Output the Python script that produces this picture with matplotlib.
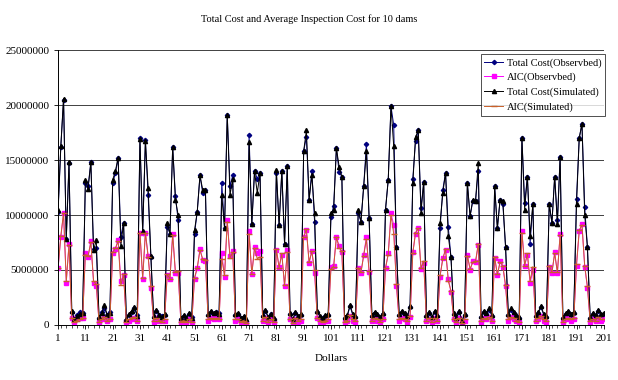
import numpy as np
import matplotlib.pyplot as plt
from matplotlib.ticker import FixedLocator, MultipleLocator

# values in millions of dollars, one row per 10 samples
total_cost_obs = [
    10.3, 16.2, 20.5, 7.8, 14.7, 1.2, 0.45, 0.9, 1.2, 1.1,
    12.9, 12.6, 14.8, 6.9, 7.0, 0.6, 1.2, 1.5, 0.9, 1.2,
    12.9, 13.8, 15.2, 8.0, 9.3, 0.45, 0.9, 1.2, 1.5, 0.9,
    17.0, 8.4, 16.8, 11.8, 6.2, 0.7, 1.3, 0.9, 0.8, 0.9,
    8.95, 8.3, 16.2, 11.7, 9.5, 0.5, 0.8, 0.6, 1.0, 0.7,
    8.3, 10.3, 13.6, 12.0, 12.3, 0.9, 1.2, 1.0, 1.2, 1.1,
    12.9, 8.8, 19.1, 12.6, 13.6, 0.9, 1.0, 0.6, 0.7, 0.4,
    17.3, 9.2, 14.0, 13.3, 13.85, 0.8, 1.3, 0.6, 1.0, 0.5,
    13.8, 9.1, 14.0, 7.4, 14.5, 1.0, 0.4, 1.1, 0.7, 0.9,
    15.8, 17.1, 11.4, 14.0, 9.4, 1.2, 0.7, 0.6, 0.8, 0.9,
    9.8, 10.85, 16.1, 13.9, 13.5, 0.6, 0.8, 1.7, 0.9, 0.7,
    10.2, 9.4, 12.6, 16.5, 9.7, 0.8, 1.1, 0.9, 0.6, 1.0,
    10.5, 13.2, 19.9, 18.2, 7.1, 0.9, 1.2, 1.0, 0.7, 1.6,
    13.3, 16.7, 17.7, 10.6, 13.0, 0.8, 1.1, 0.6, 1.2, 0.8,
    8.8, 12.3, 13.85, 8.9, 6.15, 1.0, 0.5, 1.2, 0.3, 0.9,
    12.9, 9.9, 11.3, 11.3, 14.0, 0.7, 1.2, 1.0, 1.4, 0.8,
    12.6, 8.8, 11.4, 11.0, 7.1, 0.9, 1.4, 1.1, 0.8, 0.6,
    17.0, 11.1, 13.5, 7.4, 11.0, 0.8, 1.1, 1.6, 0.9, 0.7,
    11.0, 9.3, 13.5, 9.5, 15.3, 0.6, 1.0, 1.2, 0.9, 1.1,
    11.5, 17.0, 18.3, 10.7, 7.1, 0.6, 1.0, 0.8, 1.3, 0.9, 1.0,
]
aic_obs = [
    5.15, 8.0, 10.15, 3.85, 7.4, 0.6, 0.3, 0.5, 0.6, 0.6,
    6.5, 6.2, 7.6, 3.85, 3.5, 0.3, 0.5, 0.6, 0.4, 0.5,
    6.5, 6.9, 7.7, 4.0, 4.5, 0.3, 0.4, 0.5, 0.6, 0.4,
    8.4, 4.2, 8.4, 6.3, 3.4, 0.3, 0.6, 0.4, 0.4, 0.4,
    4.5, 4.2, 8.3, 4.7, 4.7, 0.3, 0.4, 0.3, 0.5, 0.3,
    4.2, 5.15, 6.9, 5.9, 5.8, 0.4, 0.6, 0.5, 0.6, 0.5,
    6.5, 4.4, 9.5, 6.3, 6.7, 0.4, 0.5, 0.3, 0.3, 0.2,
    8.5, 4.6, 7.1, 6.5, 6.7, 0.4, 0.6, 0.3, 0.5, 0.3,
    6.8, 5.3, 6.4, 3.5, 6.8, 0.5, 0.2, 0.5, 0.3, 0.4,
    8.0, 8.6, 5.65, 6.7, 4.7, 0.6, 0.3, 0.3, 0.4, 0.4,
    5.3, 5.4, 8.0, 7.2, 6.6, 0.3, 0.4, 0.8, 0.4, 0.3,
    5.15, 4.7, 6.4, 8.0, 4.8, 0.4, 0.5, 0.4, 0.3, 0.5,
    5.15, 6.5, 10.15, 9.1, 3.5, 0.4, 0.6, 0.5, 0.3, 0.7,
    6.6, 8.3, 8.8, 5.1, 5.6, 0.4, 0.5, 0.3, 0.6, 0.4,
    4.4, 6.1, 6.8, 4.2, 3.0, 0.5, 0.2, 0.6, 0.1, 0.4,
    6.4, 5.0, 5.8, 5.7, 7.3, 0.3, 0.6, 0.5, 0.7, 0.4,
    6.1, 4.5, 5.8, 5.3, 3.5, 0.4, 0.7, 0.5, 0.4, 0.3,
    8.5, 5.4, 6.4, 3.8, 5.0, 0.4, 0.5, 0.8, 0.4, 0.3,
    5.3, 4.7, 6.6, 4.7, 8.3, 0.3, 0.5, 0.6, 0.4, 0.5,
    5.4, 8.5, 9.2, 5.3, 3.4, 0.3, 0.5, 0.4, 0.6, 0.4, 0.5,
]
total_cost_sim = [
    10.5, 16.3, 20.6, 7.8, 14.8, 1.3, 0.5, 0.8, 1.0, 1.1,
    13.2, 12.4, 14.8, 6.8, 7.7, 0.7, 1.1, 1.8, 0.9, 1.1,
    13.2, 14.0, 15.2, 7.2, 9.3, 0.5, 1.0, 1.3, 1.6, 0.8,
    16.9, 8.5, 16.7, 12.5, 6.3, 0.8, 1.4, 0.9, 0.7, 1.0,
    9.3, 8.3, 16.2, 11.4, 10.0, 0.6, 0.9, 0.6, 1.1, 0.6,
    8.6, 10.3, 13.6, 12.3, 12.3, 1.0, 1.3, 1.1, 1.2, 1.0,
    11.8, 8.8, 19.1, 11.8, 13.3, 1.0, 1.1, 0.6, 0.8, 0.5,
    16.6, 9.2, 14.0, 12.0, 13.85, 0.9, 1.4, 0.7, 1.0, 0.6,
    14.1, 9.1, 14.0, 7.35, 14.5, 1.1, 0.5, 1.2, 0.8, 1.0,
    15.8, 17.7, 11.4, 13.6, 10.2, 1.3, 0.8, 0.6, 0.9, 1.0,
    10.2, 10.5, 16.1, 14.4, 13.5, 0.7, 0.9, 1.8, 1.0, 0.8,
    10.5, 9.4, 12.6, 15.8, 9.7, 0.9, 1.2, 1.0, 0.7, 1.1,
    10.5, 13.2, 19.9, 16.3, 7.1, 1.0, 1.3, 1.1, 0.8, 1.7,
    12.9, 17.1, 17.7, 10.2, 13.0, 0.9, 1.2, 0.7, 1.3, 0.9,
    9.3, 12.0, 13.85, 8.1, 6.15, 1.1, 0.6, 1.3, 0.4, 1.0,
    12.9, 9.9, 11.4, 11.3, 14.75, 0.8, 1.3, 1.1, 1.5, 0.9,
    12.6, 8.8, 11.4, 11.3, 7.1, 1.0, 1.5, 1.2, 0.9, 0.7,
    17.0, 10.5, 13.5, 8.1, 11.0, 0.9, 1.2, 1.7, 1.0, 0.8,
    11.0, 9.3, 13.5, 9.2, 15.3, 0.7, 1.1, 1.3, 1.0, 1.2,
    11.0, 17.0, 18.3, 10.0, 7.1, 0.7, 1.1, 0.9, 1.4, 1.0, 1.1,
]
aic_sim = [
    5.2, 8.1, 10.2, 4.0, 7.3, 0.6, 0.3, 0.4, 0.5, 0.6,
    6.4, 6.3, 7.5, 4.0, 3.7, 0.3, 0.5, 0.7, 0.4, 0.5,
    6.6, 7.0, 7.6, 3.6, 4.6, 0.3, 0.5, 0.6, 0.7, 0.4,
    8.4, 4.3, 8.4, 6.2, 3.5, 0.4, 0.6, 0.4, 0.3, 0.5,
    4.6, 4.2, 8.2, 4.8, 4.9, 0.3, 0.4, 0.3, 0.5, 0.3,
    4.3, 5.2, 6.8, 6.0, 5.9, 0.5, 0.6, 0.5, 0.6, 0.5,
    6.0, 4.5, 9.4, 6.1, 6.6, 0.5, 0.5, 0.3, 0.4, 0.2,
    8.3, 4.6, 7.0, 6.0, 6.2, 0.4, 0.7, 0.3, 0.5, 0.3,
    6.9, 5.2, 6.5, 3.6, 6.6, 0.5, 0.2, 0.6, 0.4, 0.5,
    8.0, 8.7, 5.7, 6.7, 5.0, 0.6, 0.4, 0.3, 0.4, 0.5,
    5.1, 5.3, 8.0, 7.0, 6.7, 0.3, 0.4, 0.9, 0.5, 0.4,
    5.2, 4.8, 6.3, 7.8, 4.9, 0.4, 0.6, 0.5, 0.3, 0.5,
    5.2, 6.4, 10.0, 8.3, 3.7, 0.5, 0.6, 0.5, 0.4, 0.8,
    6.5, 8.4, 8.8, 5.2, 5.8, 0.4, 0.6, 0.3, 0.6, 0.4,
    4.5, 6.0, 6.9, 4.0, 3.1, 0.5, 0.3, 0.6, 0.2, 0.5,
    6.3, 5.1, 5.7, 5.8, 7.4, 0.4, 0.6, 0.5, 0.7, 0.4,
    6.2, 4.6, 5.7, 5.4, 3.6, 0.5, 0.7, 0.6, 0.4, 0.3,
    8.4, 5.4, 6.5, 4.0, 5.3, 0.4, 0.6, 0.8, 0.5, 0.4,
    5.4, 4.8, 6.5, 4.8, 8.2, 0.3, 0.5, 0.6, 0.5, 0.6,
    5.5, 8.6, 9.1, 5.4, 3.5, 0.4, 0.5, 0.4, 0.7, 0.5, 0.5,
]

x = np.arange(1, len(total_cost_obs) + 1)
scale = 1e6

plt.rcParams['font.family'] = ['Liberation Serif', 'DejaVu Serif']

fig = plt.figure(figsize=(6.18, 3.80), dpi=100)
ax = fig.add_axes([0.094, 0.145, 0.883, 0.723])

ax.plot(x, np.array(total_cost_obs) * scale, color='#000080', lw=0.7,
        marker='D', ms=2.2, label='Total Cost(Observbed)')
ax.plot(x, np.array(aic_obs) * scale, color='#FF00FF', lw=0.7,
        marker='s', ms=3, label='AIC(Observbed)')
ax.plot(x, np.array(total_cost_sim) * scale, color='black', lw=0.7,
        marker='^', ms=3, label='Total Cost(Simulated)')
ax.plot(x, np.array(aic_sim) * scale, color='#C8602A', lw=0.7,
        marker='_', ms=4, label='AIC(Simulated)')

ax.set_xlim(1, 201)
ax.set_ylim(0, 25000000)
ax.xaxis.set_major_locator(FixedLocator(np.arange(1, 202, 10)))
ax.xaxis.set_minor_locator(MultipleLocator(2))
ax.set_yticks(np.arange(0, 25000001, 5000000))
ax.yaxis.set_major_formatter(plt.FuncFormatter(lambda v, p: '%d' % v))
ax.tick_params(axis='both', labelsize=8, length=3, width=0.6, direction='out')
ax.tick_params(axis='x', which='minor', length=2, width=0.5)
ax.grid(axis='y', color='#404040', lw=0.7)
ax.set_axisbelow(True)
for s in ['top', 'right']:
    ax.spines[s].set_visible(False)
for s in ['left', 'bottom']:
    ax.spines[s].set_linewidth(0.7)

ax.set_xlabel('Dollars', fontsize=8, labelpad=8)
fig.text(0.5, 0.95, 'Total Cost and Average Inspection Cost for 10 dams',
         ha='center', va='center', fontsize=7.5)

leg = ax.legend(loc='upper right', bbox_to_anchor=(1.003, 0.985), fontsize=7.5,
                frameon=True, fancybox=False, edgecolor='black',
                handlelength=1.8, handletextpad=0.4, borderpad=0.35,
                labelspacing=0.5, borderaxespad=0.0)
leg.get_frame().set_linewidth(0.6)

fig.savefig('out.png', dpi=100)
